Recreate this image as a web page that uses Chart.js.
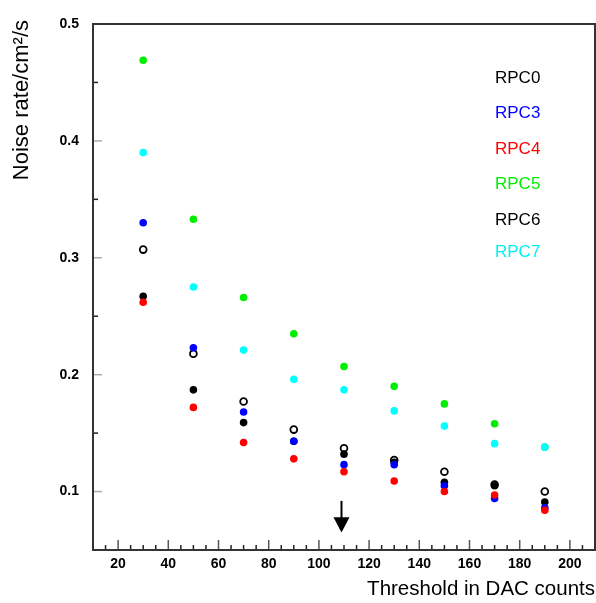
<!DOCTYPE html>
<html><head><meta charset="utf-8">
<script src="https://cdn.jsdelivr.net/npm/chart.js@4.4.1/dist/chart.umd.min.js"></script>
<style>html,body{margin:0;padding:0;background:#fff;} #wrap{width:596px;height:603px;}</style>
</head><body><div id="wrap"><canvas id="c" width="596" height="603"></canvas></div>
<script>
// ---- data ----
const thresholds = [30, 50, 70, 90, 110, 130, 150, 170, 190];
const rpc0 = [0.267, 0.187, 0.159, 0.143, 0.132, 0.125, 0.108, 0.105, 0.091];
const rpc3 = [0.330, 0.223, 0.168, 0.143, 0.123, 0.123, 0.105, 0.094, 0.086];
const rpc4 = [0.262, 0.172, 0.142, 0.128, 0.117, 0.109, 0.100, 0.097, 0.084];
const rpc5 = [0.469, 0.333, 0.266, 0.235, 0.207, 0.190, 0.175, 0.158, 0.138];
const rpc6 = [0.307, 0.218, 0.177, 0.153, 0.137, 0.127, 0.117, 0.106, 0.100];
const rpc7 = [0.390, 0.275, 0.221, 0.196, 0.187, 0.169, 0.156, 0.141, 0.138];
const seriesNames = ['RPC0', 'RPC3', 'RPC4', 'RPC5', 'RPC6', 'RPC7'];
const xTicks = [20, 40, 60, 80, 100, 120, 140, 160, 180, 200];
const xMinorTicks = [15,25,30,35,45,50,55,65,70,75,85,90,95,105,110,115,125,130,135,145,150,155,165,170,175,185,190,195,205];
const yTicks = [0.1, 0.2, 0.3, 0.4, 0.5];
const yMinorTicks = [0.15, 0.25, 0.35, 0.45];
const arrowX = 109, arrowTop = 0.092, arrowHeadBase = 0.078, arrowTip = 0.065;
const xTitle = 'Threshold in DAC counts';
const yTitle = 'Noise rate/cm\u00B2/s';

// ---- styles ----
const colors = ['#000000', '#0000ff', '#ff0000', '#00ee00', '#000000', '#00ffff'];
const filled = [true, true, true, true, false, true];
const drawOrder = [4, 2, 1, 6, 3, 5];
const seriesValues = [rpc0, rpc3, rpc4, rpc5, rpc6, rpc7];

const datasets = seriesNames.map((name, k) => ({
  label: name,
  data: thresholds.map((x, i) => ({x: x, y: seriesValues[k][i]})),
  backgroundColor: filled[k] ? colors[k] : 'rgba(0,0,0,0)',
  borderColor: colors[k],
  borderWidth: filled[k] ? 0 : 1.8,
  pointRadius: filled[k] ? 3.8 : 3.4,
  pointStyle: 'circle',
  order: drawOrder[k]
}));

const decor = {
  id: 'decor',
  afterDraw(chart) {
    const ctx = chart.ctx, a = chart.chartArea;
    const xs = chart.scales.x, ys = chart.scales.y;
    ctx.save();
    // inward ticks
    ctx.lineWidth = 1.5;
    ctx.strokeStyle = '#555';
    xTicks.forEach(v => { const p = xs.getPixelForValue(v); ctx.beginPath(); ctx.moveTo(p, a.bottom); ctx.lineTo(p, a.bottom - 10); ctx.stroke(); });
    ctx.strokeStyle = '#222';
    xMinorTicks.forEach(v => { const p = xs.getPixelForValue(v); ctx.beginPath(); ctx.moveTo(p, a.bottom); ctx.lineTo(p, a.bottom - 5); ctx.stroke(); });
    ctx.strokeStyle = '#aaa';
    yTicks.forEach(v => { const p = ys.getPixelForValue(v); ctx.beginPath(); ctx.moveTo(a.left, p); ctx.lineTo(a.left + 9, p); ctx.stroke(); });
    ctx.strokeStyle = '#222';
    yMinorTicks.forEach(v => { const p = ys.getPixelForValue(v); ctx.beginPath(); ctx.moveTo(a.left, p); ctx.lineTo(a.left + 5, p); ctx.stroke(); });
    // frame
    ctx.lineWidth = 2;
    ctx.strokeStyle = '#333';
    ctx.strokeRect(a.left, a.top, a.right - a.left, a.bottom - a.top);
    // arrow
    const ax = xs.getPixelForValue(arrowX);
    const yT = ys.getPixelForValue(arrowTop), yB = ys.getPixelForValue(arrowHeadBase), yP = ys.getPixelForValue(arrowTip);
    ctx.strokeStyle = '#000'; ctx.fillStyle = '#000'; ctx.lineWidth = 2;
    ctx.beginPath(); ctx.moveTo(ax, yT); ctx.lineTo(ax, yB + 1); ctx.stroke();
    ctx.beginPath(); ctx.moveTo(ax - 8, yB); ctx.lineTo(ax + 8, yB); ctx.lineTo(ax, yP); ctx.closePath(); ctx.fill();
    // legend texts
    ctx.font = '17px "Liberation Sans", Arial, sans-serif';
    ctx.textAlign = 'left'; ctx.textBaseline = 'middle';
    const ly = [78, 113, 149, 184, 220, 252];
    seriesNames.forEach((n, k) => { ctx.fillStyle = colors[k] === '#00ffff' ? '#00f0f0' : colors[k]; ctx.fillText(n, 495, ly[k]); });
    // axis titles
    ctx.fillStyle = '#000';
    ctx.font = '20.5px "Liberation Sans", Arial, sans-serif';
    ctx.textAlign = 'right'; ctx.textBaseline = 'middle';
    ctx.fillText(xTitle, 595, 589);
    ctx.translate(22, 20); ctx.rotate(-Math.PI / 2);
    ctx.font = '22px "Liberation Sans", Arial, sans-serif';
    ctx.fillText(yTitle, 0, 0);
    ctx.restore();
  }
};

const tickFont = {family: '"Liberation Sans", Arial, sans-serif', size: 14, weight: 'bold'};

new Chart(document.getElementById('c'), {
  type: 'scatter',
  data: {datasets: datasets},
  options: {
    responsive: false, animation: false,
    layout: {autoPadding: false, padding: {left: 0, top: 24, right: 1, bottom: 0}},
    plugins: {legend: {display: false}, tooltip: {enabled: false}},
    scales: {
      x: {
        type: 'linear', min: 10, max: 210,
        grid: {display: false, drawTicks: false}, border: {display: false},
        afterBuildTicks: s => { s.ticks = xTicks.map(v => ({value: v})); },
        afterFit: s => { s.height = 53; s.paddingLeft = 0; s.paddingRight = 0; },
        ticks: {padding: 6, color: '#000', font: tickFont, maxRotation: 0, autoSkip: false}
      },
      y: {
        type: 'linear', min: 0.05, max: 0.5,
        grid: {display: false, drawTicks: false}, border: {display: false},
        afterBuildTicks: s => { s.ticks = yTicks.map(v => ({value: v})); },
        afterFit: s => { s.width = 93; s.paddingTop = 0; s.paddingBottom = 0; },
        ticks: {padding: 14, color: '#000', font: tickFont, callback: v => v.toFixed(1)}
      }
    }
  },
  plugins: [decor]
});
</script>
</body></html>
